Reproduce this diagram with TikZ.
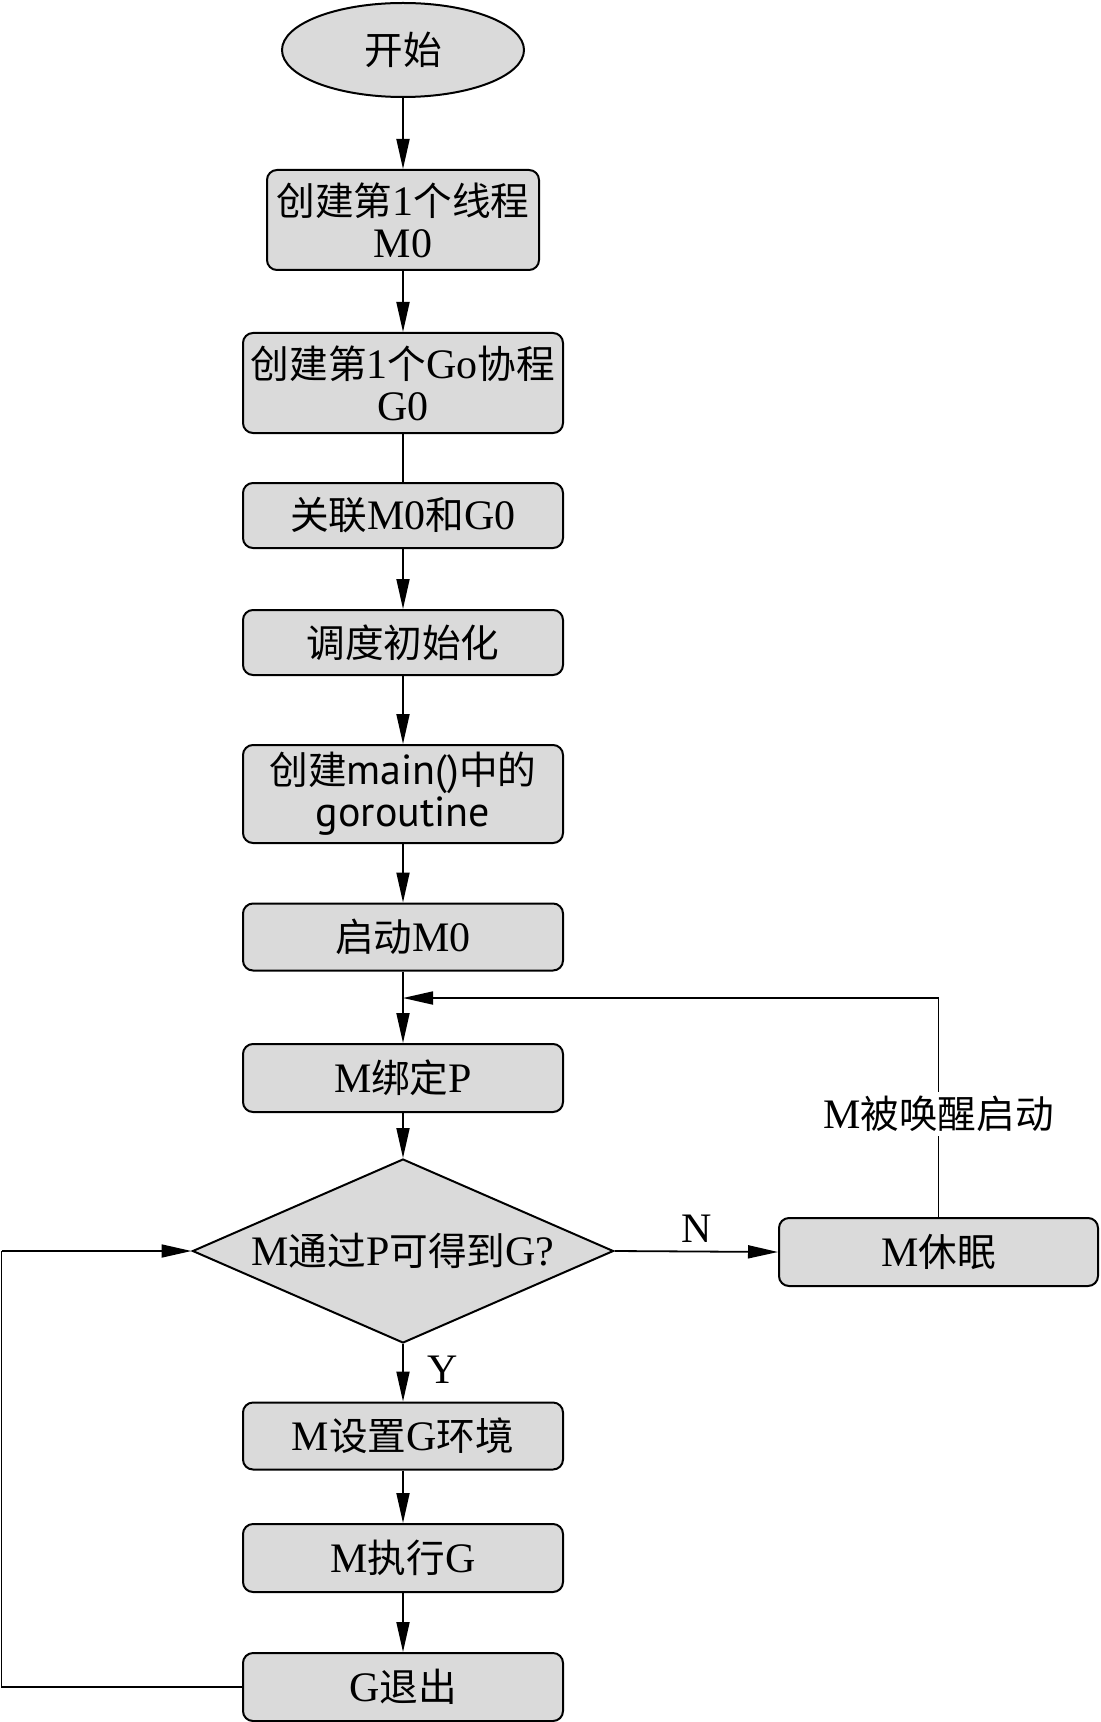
\documentclass[tikz,border=0pt]{standalone}
\usepackage{fontspec}
\setmainfont{Liberation Serif}
\newfontfamily\cjk{Noto Sans CJK SC}[Scale=0.92]
\newfontfamily\latsans{PT Sans}
\newcommand{\cj}[1]{{\cjk #1}}
\usetikzlibrary{shapes.geometric,arrows.meta}
\definecolor{boxgray}{RGB}{218,218,218}
\tikzset{
  base/.style={draw=black, line width=1pt, fill=boxgray, font=\fontsize{21}{21}\selectfont, align=center, inner sep=1pt},
  pbox/.style={base, rectangle, rounded corners=5pt, minimum width=160pt, minimum height=33.5pt},
  pbox2/.style={pbox, minimum height=50pt},
  arr/.style={line width=0.9pt, -{Triangle[length=15pt,width=6.5pt]}},
  ln/.style={line width=0.9pt},
  lbl/.style={font=\fontsize{21}{21}\selectfont, inner sep=2pt}
}
\begin{document}
\begin{tikzpicture}[x=0.5pt,y=-0.5pt]
\useasboundingbox (0,0) rectangle (1100,1722);
\node[base, ellipse, minimum width=121pt, minimum height=47pt, inner sep=0pt] (start) at (403,50) {\cj{开始}};
\node[pbox2, minimum width=136pt] (b1) at (403,220) {\cj{创建第}1\cj{个线程}\\M0};
\node[pbox2] (b2) at (403,383) {\cj{创建第}1\cj{个}Go\cj{协程}\\G0};
\node[pbox, minimum height=32.5pt] (b3) at (403,515.5) {\cj{关联}M0\cj{和}G0};
\node[pbox, minimum height=32.5pt] (b4) at (403,642.5) {\cj{调度初始化}};
\node[pbox2, minimum height=49pt] (b5) at (403,794) {\cj{创建}{\latsans main()}\cj{中的}\\{\latsans goroutine}};
\node[pbox] (b6) at (403,937) {\cj{启动}M0};
\node[pbox, minimum height=34pt] (b7) at (403,1078) {M\cj{绑定}P};
\node[base, diamond, aspect=2.29, inner sep=0pt, minimum width=210.5pt, minimum height=92pt] (d) at (403,1251) {M\cj{通过}P\cj{可得到}G?};
\node[pbox, minimum width=159.5pt, minimum height=34pt] (sleep) at (938.5,1252) {M\cj{休眠}};
\node[pbox] (b8) at (403,1436) {M\cj{设置}G\cj{环境}};
\node[pbox, minimum height=34pt] (b9) at (403,1558) {M\cj{执行}G};
\node[pbox, minimum height=34pt] (b10) at (403,1687) {G\cj{退出}};
\coordinate (merge) at (403,998);
\coordinate (ur) at (938.5,998);
\coordinate (ll) at (1.5,1687);
\coordinate (ul) at (1.5,1251);
\draw[arr] (start) -- (b1);
\draw[arr] (b1) -- (b2);
\draw[ln] (b2) -- (b3);
\draw[arr] (b3) -- (b4);
\draw[arr] (b4) -- (b5);
\draw[arr] (b5) -- (b6);
\draw[arr] (b6) -- (b7);
\draw[arr] (b7) -- (d);
\draw[arr] (d.east) -- node[lbl, above, yshift=2pt] {N} (sleep.west);
\draw[arr] (d.south) -- node[lbl, right, xshift=10pt, pos=0.45] {Y} (b8.north);
\draw[arr] (b8) -- (b9);
\draw[arr] (b9) -- (b10);
\draw[ln] (sleep.north) -- node[lbl, fill=white, pos=0.47] {M\cj{被唤醒启动}} (ur);
\draw[arr] (ur) -- (merge);
\draw[ln] (b10.west) -- (ll) -- (ul);
\draw[arr] (ul) -- (d.west);
\end{tikzpicture}
\end{document}
